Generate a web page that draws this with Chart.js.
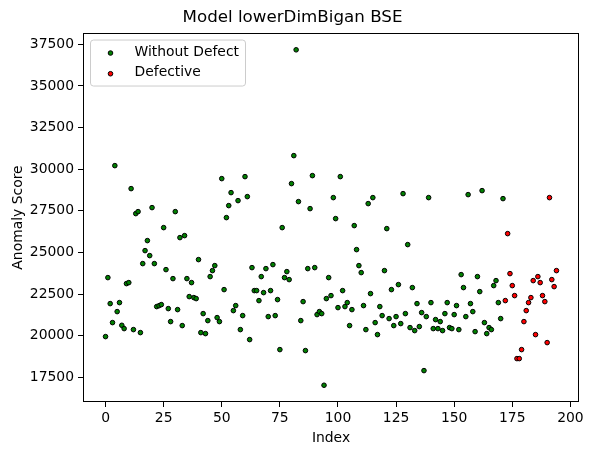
<!DOCTYPE html>
<html>
<head>
<meta charset="utf-8">
<script src="https://cdn.jsdelivr.net/npm/chart.js@4.4.1/dist/chart.umd.min.js"></script>
<style>
  html, body { margin: 0; padding: 0; background: #fff; }
  #wrap { width: 593px; height: 455px; }
</style>
</head>
<body>
<div id="wrap"><canvas id="chart"></canvas></div>
<script>
// anomaly scores by sample index (normal samples first, then defective ones)
const normalScores = [
    19944, 23487, 21926, 20785, 30212, 21445, 21986, 20623, 20424, 23127,
    23187, 28831, 20364, 27330, 27450, 20184, 24328, 25108, 25709, 24808,
    27691, 24328, 21746, 21800, 21866, 26489, 23967, 21625, 20845, 23427,
    27450, 21565, 25889, 20605, 26009, 23427, 22346, 23187, 22286, 22226,
    24568, 20184, 21325, 20124, 20905, 23547, 23907, 24208, 21085, 20845,
    29432, 22766, 27090, 27811, 28591, 21505, 21806, 28111, 20364, 21205,
    29552, 28351, 19764, 24087, 22706, 22706, 22106, 23547, 22586, 24027,
    21145, 22706, 24268, 21205, 22166, 19163, 26489, 23487, 23847, 23367,
    29132, 30813, 37168, 28051, 20905, 22046, 19103, 24027, 27630, 29612,
    24087, 21265, 21445, 21325, 17024, 22226, 23487, 22406, 28291, 27030,
    21685, 29552, 22706, 21746, 21986, 20605, 21565, 26610, 25168, 24208,
    23787, 21806, 20364, 27931, 22526, 28291, 20785, 20064, 21746, 21205,
    23907, 26429, 21025, 22766, 20605, 21145, 23067, 20725, 28531, 21325,
    25469, 20485, 22887, 20304, 21926, 20545, 21385, 17902, 21145, 28291,
    21986, 20424, 20965, 20424, 20845, 20304, 21325, 21986, 20485, 20424,
    21265, 21806, 20364, 23667, 22887, 21145, 28471, 21926, 21445, 20244,
    23547, 22646, 28711, 20785, 20124, 20485, 20364, 23007, 23307, 21986,
    21025, 28231
];
const defectScores = [
    22106, 26129, 23727, 23007, 22406, 18623, 18623, 19163, 20845, 21505,
    21986, 22286, 23307, 20064, 23547, 23187, 22406, 22046, 19584, 28291,
    23367, 22946, 23907
];
const seriesNames = ['Without Defect', 'Defective'];
const xTicks = [0, 25, 50, 75, 100, 125, 150, 175, 200];
const yTicks = [17500, 20000, 22500, 25000, 27500, 30000, 32500, 35000, 37500];

const FONT = 'DejaVu Sans';
const colors = ['#008000', '#ff0000'];

const normalPoints = normalScores.map((v, i) => ({ x: i, y: v }));
const defectPoints = defectScores.map((v, i) => ({ x: normalScores.length + i, y: v }));

// matplotlib style 5% margins around the data
const allScores = normalScores.concat(defectScores);
const nTotal = allScores.length;
const yLo = Math.min(...allScores), yHi = Math.max(...allScores);
const xPad = (nTotal - 1) * 0.05, yPad = (yHi - yLo) * 0.05;

// frame around the plot + legend box in the upper left corner
const framePlugin = {
    id: 'frame',
    afterDraw(chart) {
        const { ctx, chartArea: a } = chart;
        ctx.save();
        ctx.strokeStyle = '#000';
        ctx.lineWidth = 1;
        ctx.strokeRect(Math.round(a.left) + 0.5, Math.round(a.top) + 0.5,
            Math.round(a.right - a.left) - 1, Math.round(a.bottom - a.top) - 1);

        const bx = a.left + 7.5, by = a.top + 7, bw = 155, bh = 46;
        ctx.beginPath();
        ctx.roundRect(bx, by, bw, bh, 3);
        ctx.fillStyle = 'rgba(255,255,255,0.8)';
        ctx.fill();
        ctx.strokeStyle = '#cccccc';
        ctx.stroke();

        ctx.font = '13.9px "' + FONT + '"';
        ctx.textBaseline = 'middle';
        ctx.textAlign = 'left';
        seriesNames.forEach((name, i) => {
            const cy = by + 13 + i * 20.7;
            ctx.beginPath();
            ctx.arc(bx + 20, cy, 2.3, 0, Math.PI * 2);
            ctx.fillStyle = colors[i];
            ctx.fill();
            ctx.strokeStyle = '#000';
            ctx.lineWidth = 1;
            ctx.stroke();
            ctx.fillStyle = '#000';
            ctx.fillText(name, bx + 44, cy - 1);
        });
        ctx.restore();
    }
};

new Chart(document.getElementById('chart'), {
    type: 'scatter',
    data: {
        datasets: [
            {
                label: seriesNames[0],
                data: normalPoints,
                backgroundColor: colors[0],
                borderColor: '#000',
                borderWidth: 1,
                pointRadius: 2.3,
            },
            {
                label: seriesNames[1],
                data: defectPoints,
                backgroundColor: colors[1],
                borderColor: '#000',
                borderWidth: 1,
                pointRadius: 2.3,
            }
        ]
    },
    options: {
        responsive: true,
        maintainAspectRatio: false,
        animation: false,
        layout: { padding: { left: 6, right: 14, top: 0, bottom: 4 } },
        plugins: {
            legend: { display: false },
            tooltip: { enabled: false },
            title: {
                display: true,
                text: 'Model lowerDimBigan BSE',
                color: '#000',
                font: { family: FONT, size: 16.7, weight: 'normal' },
                padding: { top: 8, bottom: 5 },
            },
        },
        scales: {
            x: {
                type: 'linear',
                min: -xPad,
                max: nTotal - 1 + xPad,
                afterBuildTicks: (scale) => { scale.ticks = xTicks.map(v => ({ value: v })); },
                afterFit: (scale) => { scale.height = 49; },
                ticks: {
                    color: '#000',
                    font: { family: FONT, size: 13.9 },
                    padding: 3,
                    maxRotation: 0,
                    callback: (v) => String(v),
                },
                grid: { display: true, drawOnChartArea: false, drawTicks: true, tickLength: 5, color: '#000' },
                border: { display: false },
                title: {
                    display: true,
                    text: 'Index',
                    color: '#000',
                    font: { family: FONT, size: 13.9 },
                    padding: { top: 2, bottom: 4 },
                },
            },
            y: {
                min: yLo - yPad,
                max: yHi + yPad,
                afterBuildTicks: (scale) => { scale.ticks = yTicks.map(v => ({ value: v })); },
                afterFit: (scale) => { scale.width = 77; },
                ticks: {
                    color: '#000',
                    font: { family: FONT, size: 13.9 },
                    padding: 4,
                    callback: (v) => String(v),
                },
                grid: { display: true, drawOnChartArea: false, drawTicks: true, tickLength: 5, color: '#000' },
                border: { display: false },
                title: {
                    display: true,
                    text: 'Anomaly Score',
                    color: '#000',
                    font: { family: FONT, size: 13.9 },
                    padding: { top: 4, bottom: 6 },
                },
            },
        },
    },
    plugins: [framePlugin],
});
</script>
</body>
</html>
